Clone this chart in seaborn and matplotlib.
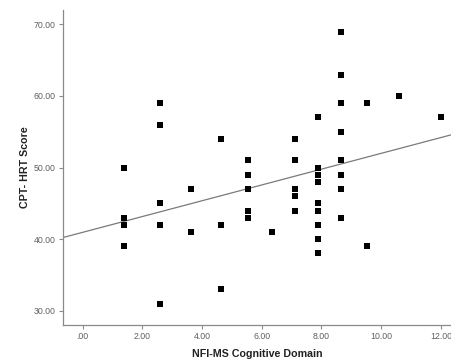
"""
Scatter of CPT-HRT score against NFI-MS cognitive domain with a linear fit
"""

import pandas as pd
import seaborn as sns
import matplotlib.pyplot as plt
from matplotlib.ticker import FuncFormatter

# Values, grouped by x column
nfi_cognitive = (
    [1.38] * 4 + [2.58] * 5 + [3.64] * 2 + [4.62] * 3 + [5.53] * 5 + [6.36]
    + [7.12] * 5 + [7.89] * 9 + [8.65] * 8 + [9.53] * 2 + [10.6] + [12.0]
)
cpt_hrt = [
    50, 43, 42, 39,
    59, 56, 45, 42, 31,
    47, 41,
    54, 42, 33,
    51, 49, 47, 44, 43,
    41,
    54, 51, 47, 46, 44,
    57, 50, 49, 48, 45, 44, 42, 40, 38,
    69, 63, 59, 55, 51, 49, 47, 43,
    59, 39,
    60,
    57,
]
x_ticks = [0, 2, 4, 6, 8, 10, 12]
y_ticks = [30, 40, 50, 60, 70]

X_LIMITS = (-0.66, 12.37)
Y_LIMITS = (28.0, 72.0)


def spss_format(value, pos=None):
    """SPSS style labels: two decimals, no leading zero"""
    text = f"{value:.2f}"
    if text.startswith("0"):
        text = text[1:]
    return text


def plot() -> None:
    df = pd.DataFrame({"NFI-MS Cognitive Domain": nfi_cognitive, "CPT- HRT Score": cpt_hrt})

    sns.set_style("ticks")
    plt.rcParams["font.family"] = ["Liberation Sans", "DejaVu Sans"]

    fig = plt.figure(figsize=(4.52, 3.6), dpi=100)
    ax = fig.add_axes([0.139, 0.097, 0.861, 0.875])
    ax.set_xlim(*X_LIMITS)
    ax.set_ylim(*Y_LIMITS)

    sns.regplot(
        data=df, x="NFI-MS Cognitive Domain", y="CPT- HRT Score", ax=ax,
        scatter=False, ci=None, truncate=False,
        line_kws={"color": "#7a7a7a", "linewidth": 0.9},
    )
    sns.scatterplot(
        data=df, x="NFI-MS Cognitive Domain", y="CPT- HRT Score", ax=ax,
        marker="s", color="black", s=20, linewidth=0, zorder=3,
    )

    ax.set_xlim(*X_LIMITS)
    ax.set_ylim(*Y_LIMITS)
    ax.set_xticks(x_ticks)
    ax.set_yticks(y_ticks)
    ax.xaxis.set_major_formatter(FuncFormatter(spss_format))
    ax.yaxis.set_major_formatter(FuncFormatter(spss_format))
    ax.tick_params(length=3, width=0.8, color="#8a8a8a", labelsize=6.3,
                   labelcolor="#606060", pad=2)

    for side in ("top", "right"):
        ax.spines[side].set_visible(False)
    for side in ("left", "bottom"):
        ax.spines[side].set_color("#8a8a8a")
        ax.spines[side].set_linewidth(0.9)

    ax.set_xlabel("NFI-MS Cognitive Domain", fontsize=7.7, fontweight="bold",
                  color="#222222", labelpad=6)
    ax.set_ylabel("CPT- HRT Score", fontsize=7.7, fontweight="bold",
                  color="#222222", labelpad=3)

    fig.savefig("out.png", dpi=100)


if __name__ == "__main__":
    plot()
